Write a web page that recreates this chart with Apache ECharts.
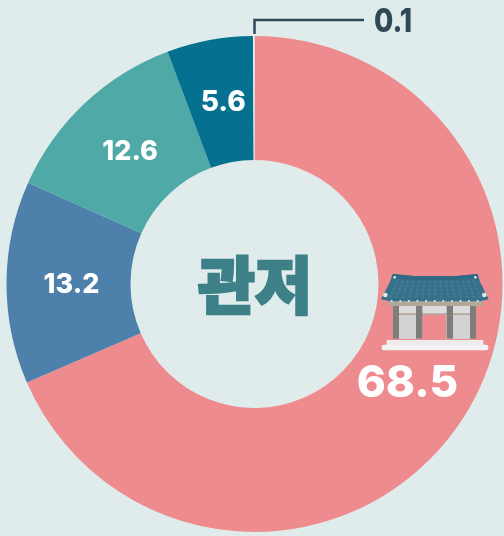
<!DOCTYPE html>
<html><head><meta charset="utf-8">
<style>html,body{margin:0;padding:0;background:#e0ecec}#c{width:504px;height:536px}</style>
<script src="https://cdn.jsdelivr.net/npm/echarts@6/dist/echarts.min.js"></script>
</head><body><div id="c"></div>
<script>
const categories = ['a','b','c','d','e'];
const values = [68.5, 13.2, 12.6, 5.6, 0.1];
const sliceColors = ['#ee8b8e','#4d80ab','#4fa9a6','#05708f','#e6eeee'];
const centerTitle = '관저';
const latin = 'Inter,"Open Sans",sans-serif';

// Decorative building, in reference-crop units (1/3 px) around an origin
const X = v => 340 + v / 3, Y = v => 250 + v / 3;
const P = pts => pts.map(p => [X(p[0]), Y(p[1])]);
const R = (x,y,w,h,fill,r) => ({type:'rect',z:20,silent:true,shape:{x:X(x),y:Y(y),width:w/3,height:h/3,r:r||0},style:{fill}});
const C = (x,y,r,fill) => ({type:'circle',z:22,silent:true,shape:{cx:X(x),cy:Y(y),r:r/3},style:{fill}});
function roofTiles(){
  const out=[];
  for(let i=0;i<15;i++){
    const t=i/14, xt=172+t*228, xb=150+t*272;
    out.push({type:'line',z:21,silent:true,shape:{x1:X(xt),y1:Y(92),x2:X(xb),y2:Y(144)},style:{stroke:'#447f96',lineWidth:2,lineDash:[2.5,1.5]}});
  }
  return out;
}
function eaveDots(){
  const out=[];
  for(let i=0;i<11;i++) out.push(C(155+i*25.8,153,3,'#e8eeee'));
  return out;
}
const building = [
  R(146,150,282,18,'#b3a99b'),
  R(177,168,214,24,'#dcdcdc'),
  R(177,190,214,5,'#b3a99b'),
  R(177,195,70,72,'#d2d2d2'),
  R(318,195,72,72,'#d2d2d2'),
  R(159,168,18,98,'#7f7d7a'),
  R(228,168,19,98,'#7f7d7a'),
  R(320,168,19,98,'#7f7d7a'),
  R(390,168,18,98,'#7f7d7a'),
  {type:'polygon',z:20,silent:true,shape:{points:P([[158,72],[230,79],[340,79],[413,72],[420,95],[446,148],[420,154],[150,154],[123,148],[148,100]])},style:{fill:'#36708a'}},
  ...roofTiles(),
  {type:'polygon',z:21,silent:true,shape:{points:P([[158,72],[230,79],[340,79],[413,72],[414,84],[340,90],[230,90],[156,84]])},style:{fill:'#2f6a84'}},
  C(164,82,4,'#dfe8e8'),C(406,82,4,'#dfe8e8'),C(136,135,7,'#dfe8e8'),C(433,135,7,'#dfe8e8'),
  ...eaveDots(),
  R(140,270,290,16,'#ececec'),
  R(125,284,320,17,'#f3f3f3',2)
];
const labelSizes = [44,27,27,28];
const labelOffsets = [[-5,-4],[6,2],[5,6],[3,4]];
const chart = echarts.init(document.getElementById('c'),null,{renderer:'canvas'});
chart.setOption({
  backgroundColor:'#e0ecec',
  animation:false,
  series:[{
    type:'pie',
    center:[254.5,284],
    radius:[124,248],
    startAngle:90,
    clockwise:true,
    silent:true,
    labelLine:{show:false},
    data:values.map((v,i)=>({
      name:categories[i], value:v,
      itemStyle:{color:sliceColors[i]},
      label: i<4 ? {
        show:true, position:'inside',
        formatter:v.toFixed(1),
        fontFamily:latin, fontWeight:800, fontSize:labelSizes[i],
        color:'#ffffff',
        offset: labelOffsets[i]
      } : {show:false}
    }))
  }],
  graphic:[
    {type:'text',x:255,y:285,silent:true,z:20,style:{text:centerTitle,font:'900 62px "Noto Sans CJK KR"',fill:'#3d8088',stroke:'#3d8088',lineWidth:2.5,align:'center',verticalAlign:'middle'}},
    {type:'polyline',silent:true,z:20,shape:{points:[[254.5,34],[254.5,20],[364,20]]},style:{stroke:'#2f4858',lineWidth:2.5,fill:'none'}},
    {type:'text',x:374,y:22,silent:true,z:20,scaleX:0.85,style:{text:values[4].toFixed(1),font:'800 33px '+latin,fill:'#2f4858',align:'left',verticalAlign:'middle'}},
    ...building
  ]
});
</script></body></html>
